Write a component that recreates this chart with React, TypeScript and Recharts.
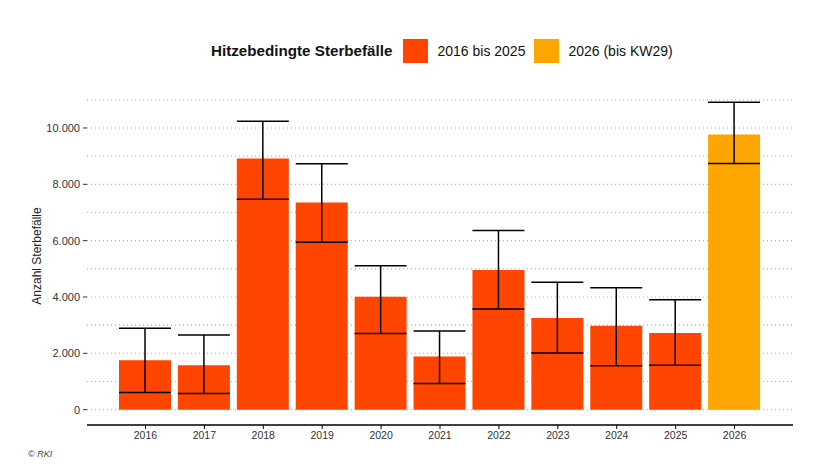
import React from 'react';
import { BarChart, Bar, XAxis, YAxis, CartesianGrid, ErrorBar, Cell } from 'recharts';

const years = ['2016', '2017', '2018', '2019', '2020', '2021', '2022', '2023', '2024', '2025', '2026'];
const deaths = [1750, 1580, 8920, 7350, 4010, 1890, 4960, 3250, 2980, 2720, 9770];
const lowerBounds = [610, 570, 7470, 5940, 2700, 930, 3570, 2010, 1560, 1580, 8740];
const upperBounds = [2890, 2650, 10240, 8730, 5110, 2790, 6360, 4520, 4330, 3900, 10910];
const currentYear = '2026';

const yTicks = [0, 2000, 4000, 6000, 8000, 10000];
const gridValues = [0, 1000, 2000, 3000, 4000, 5000, 6000, 7000, 8000, 9000, 10000, 11000];
const yDomain = [-545, 11455];

const legendTitle = 'Hitzebedingte Sterbefälle';
const seriesLabels = ['2016 bis 2025', '2026 (bis KW29)'];
const seriesColors = ['#FF4500', '#FFA500'];
const yLabel = 'Anzahl Sterbefälle';
const credit = '© RKI';

const FONT = '"Liberation Sans", Arial, Helvetica, sans-serif';

const data = years.map((year, i) => ({
  year,
  value: deaths[i],
  err: [deaths[i] - lowerBounds[i], upperBounds[i] - deaths[i]],
}));

const fmt = (v: number) => String(v).replace(/\B(?=(\d{3})+(?!\d))/g, '.');

const YLabel = (props: any) => {
  const vb = props.viewBox || { x: 0, y: 0, width: 0, height: 0 };
  const cx = vb.x + 37;
  const cy = vb.y + vb.height / 2;
  return (
    <text
      x={cx}
      y={cy}
      transform={`rotate(-90 ${cx} ${cy})`}
      textAnchor="middle"
      dominantBaseline="central"
      fontSize={12}
      fill="#222"
      fontFamily={FONT}
    >
      {yLabel}
    </text>
  );
};

export default function App() {
  return (
    <div
      style={{
        position: 'absolute',
        left: 0,
        top: 0,
        width: 817,
        height: 473,
        background: '#fff',
        fontFamily: FONT,
        overflow: 'hidden',
      }}
    >
      <div
        style={{
          position: 'absolute',
          left: 211,
          top: 38,
          height: 25,
          display: 'flex',
          alignItems: 'center',
          whiteSpace: 'nowrap',
          color: '#111',
        }}
      >
        <span style={{ fontWeight: 700, fontSize: 15.2, marginRight: 11 }}>{legendTitle}</span>
        <span style={{ width: 25, height: 24, background: seriesColors[0], marginRight: 9 }} />
        <span style={{ fontSize: 14, marginRight: 9 }}>{seriesLabels[0]}</span>
        <span style={{ width: 25, height: 24, background: seriesColors[1], marginRight: 9 }} />
        <span style={{ fontSize: 14 }}>{seriesLabels[1]}</span>
      </div>
      <BarChart
        width={817}
        height={473}
        data={data}
        margin={{ top: 87, right: 24, bottom: 0, left: 0 }}
        style={{ fontFamily: FONT }}
      >
        <CartesianGrid
          vertical={false}
          horizontalValues={gridValues}
          stroke="#b5b5b5"
          strokeDasharray="1 3"
          strokeWidth={1.2}
        />
        <XAxis
          dataKey="year"
          interval={0}
          height={48}
          padding={{ left: 29, right: 29 }}
          axisLine={{ stroke: '#000', strokeWidth: 1.5 }}
          tickLine={{ stroke: '#000' }}
          tickSize={4}
          tickMargin={3}
          tick={{ fontSize: 10.5, fill: '#333' }}
        />
        <YAxis
          width={87}
          type="number"
          domain={yDomain}
          allowDataOverflow
          ticks={yTicks}
          tickFormatter={fmt}
          axisLine={false}
          tickLine={{ stroke: '#333' }}
          tickSize={4}
          tickMargin={3}
          tick={{ fontSize: 11, fill: '#333' }}
          label={<YLabel />}
        />
        <Bar dataKey="value" barSize={52} isAnimationActive={false}>
          {data.map((d) => (
            <Cell key={d.year} fill={d.year === currentYear ? seriesColors[1] : seriesColors[0]} />
          ))}
          <ErrorBar dataKey="err" width={26} stroke="#000" strokeWidth={1.5} isAnimationActive={false} />
        </Bar>
      </BarChart>
      <div
        style={{
          position: 'absolute',
          left: 28,
          top: 449,
          fontSize: 9,
          fontStyle: 'italic',
          color: '#444',
        }}
      >
        {credit}
      </div>
    </div>
  );
}
